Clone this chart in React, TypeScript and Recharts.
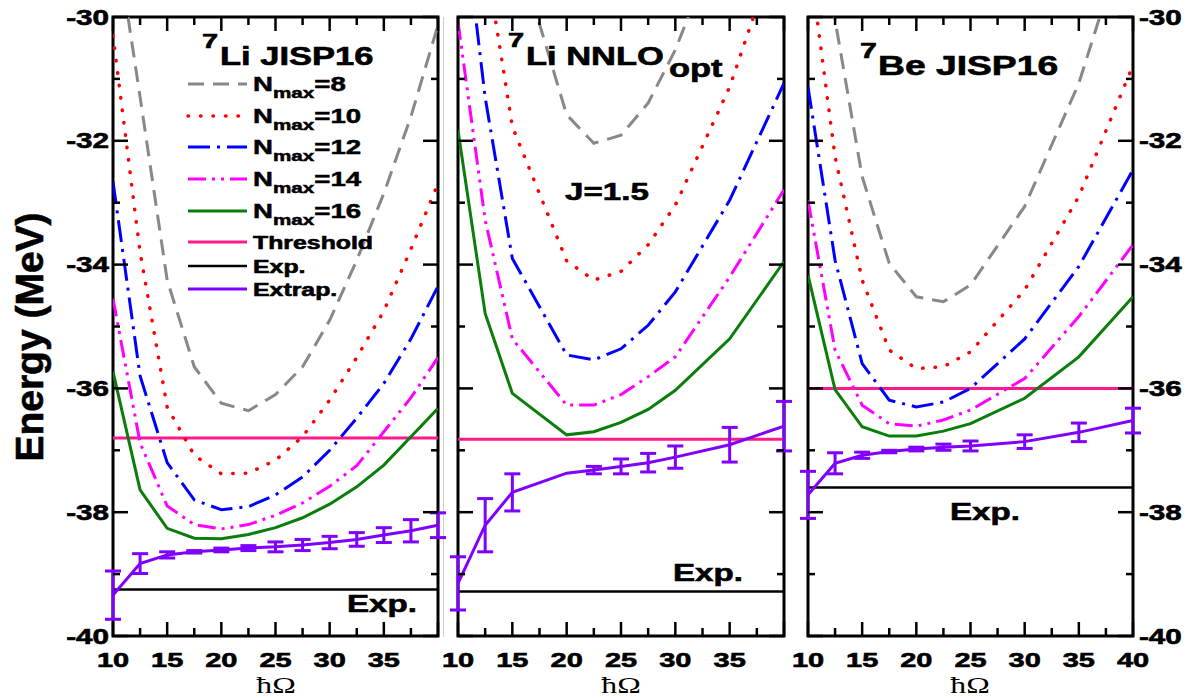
import React from "react";
import { LineChart, Line, XAxis, YAxis, ErrorBar, ReferenceLine, ReferenceArea } from "recharts";

const W = 1195;
const H = 698;
const TOP = 17;
const BOTTOM = 636;
const FONT = '"Liberation Sans", Arial, Helvetica, sans-serif';
const SX = 1.38; // the original figure is stretched sideways

// ---- 7Li JISP16 ----
const liJispHw = [10, 12.5, 15, 17.5, 20, 22.5, 25, 27.5, 30, 32.5, 35, 37.5, 40];
const liJispN8 = [-28.4, -31.29, -34.25, -35.65, -36.24, -36.36, -36.1, -35.65, -34.9, -33.93, -32.85, -31.61, -30.13];
const liJispN10 = [-30.3, -33.8, -36.3, -37.08, -37.38, -37.37, -37.16, -36.78, -36.19, -35.5, -34.75, -33.75, -32.69];
const liJispN12 = [-32.66, -35.8, -37.2, -37.8, -37.96, -37.91, -37.72, -37.43, -37.0, -36.48, -35.92, -35.2, -34.35];
const liJispN14 = [-34.55, -36.88, -37.9, -38.2, -38.27, -38.2, -38.05, -37.85, -37.58, -37.25, -36.7, -36.15, -35.5];
const liJispN16 = [-35.73, -37.64, -38.26, -38.42, -38.43, -38.36, -38.25, -38.09, -37.87, -37.59, -37.24, -36.78, -36.32];
const liJispExtrap = [-39.34, -38.83, -38.69, -38.64, -38.61, -38.58, -38.56, -38.53, -38.49, -38.44, -38.37, -38.3, -38.21];
const liJispErr = [0.39, 0.16, 0.05, 0.02, 0.03, 0.04, 0.08, 0.09, 0.1, 0.11, 0.12, 0.18, 0.2];
const liJispThreshold = -36.8;
const liJispExp = -39.25;

// ---- 7Li NNLOopt ----
const liNnloHw = [10, 12.5, 15, 20, 22.5, 25, 27.5, 30, 35, 40];
const liNnloN8 = [-25, -27, -28.65, -31.58, -32.04, -31.91, -31.39, -30.53, -28.3, -26];
const liNnloN10 = [-26.5, -29.0, -31.77, -33.94, -34.25, -34.11, -33.68, -33.04, -31.13, -28.55];
const liNnloN12 = [-27.6, -31.3, -33.9, -35.46, -35.54, -35.36, -34.98, -34.44, -32.96, -31.07];
const liNnloN14 = [-30.08, -33.28, -35.2, -36.27, -36.27, -36.1, -35.81, -35.49, -34.2, -32.79];
const liNnloN16 = [-31.83, -34.79, -36.08, -36.75, -36.7, -36.55, -36.34, -36.03, -35.2, -33.95];
const liNnloExtrap = [-39.15, -38.21, -37.68, -37.37, -37.32, -37.26, -37.2, -37.11, -36.91, -36.61];
const liNnloErr = [0.43, 0.43, 0.3, 0, 0.06, 0.12, 0.15, 0.18, 0.28, 0.4];
const liNnloThreshold = -36.82;
const liNnloExp = -39.28;

// ---- 7Be JISP16 ----
const beJispHw = [10, 12.5, 15, 17.5, 20, 22.5, 25, 30, 35, 40];
const beJispN8 = [-27.4, -30.05, -32.58, -33.98, -34.52, -34.6, -34.33, -33.06, -31.07, -28.3];
const beJispN10 = [-28.9, -32.26, -34.25, -35.38, -35.68, -35.65, -35.41, -34.41, -32.9, -30.78];
const beJispN12 = [-31.13, -33.93, -35.6, -36.19, -36.3, -36.22, -36.0, -35.2, -34.03, -32.47];
const beJispN14 = [-32.96, -35.38, -36.27, -36.57, -36.61, -36.51, -36.35, -35.84, -34.84, -33.68];
const beJispN16 = [-34.17, -36.02, -36.62, -36.77, -36.77, -36.69, -36.57, -36.16, -35.49, -34.52];
const beJispExtrap = [-37.72, -37.21, -37.08, -37.02, -36.98, -36.95, -36.93, -36.86, -36.71, -36.52];
const beJispErr = [0.38, 0.17, 0.05, 0.02, 0.03, 0.05, 0.08, 0.11, 0.15, 0.2];
const beJispThreshold = -36.0;
const beJispExp = -37.6;

const energyTicks = [-40, -39, -38, -37, -36, -35, -34, -33, -32, -31, -30];
const hwTicks = [10, 12.5, 15, 17.5, 20, 22.5, 25, 27.5, 30, 32.5, 35, 37.5, 40];

const SERIES = [
  { key: "n8", label: "8", color: "#888888", width: 3, dash: "16 9", cap: "butt" },
  { key: "n10", label: "10", color: "#ff0000", width: 3.5, dash: "0.5 12", cap: "round" },
  { key: "n12", label: "12", color: "#0000ff", width: 3, dash: "22 7 3 7", cap: "butt" },
  { key: "n14", label: "14", color: "#ff00ff", width: 3, dash: "18 6 3 6 3 6", cap: "butt" },
  { key: "n16", label: "16", color: "#0a7d0a", width: 3, dash: undefined, cap: "butt" },
];
const THR_COLOR = "#ff1a8c";
const EXT_COLOR = "#7f00ff";

function rows(hw: number[], n8: number[], n10: number[], n12: number[], n14: number[], n16: number[], ext: number[], err: number[]) {
  return hw.map((h, i) => ({ hw: h, n8: n8[i], n10: n10[i], n12: n12[i], n14: n14[i], n16: n16[i], ext: ext[i], err: err[i] }));
}

const panels = [
  { left: 113, right: 438, yLabels: "left", last: false, thr: liJispThreshold, exp: liJispExp,
    data: rows(liJispHw, liJispN8, liJispN10, liJispN12, liJispN14, liJispN16, liJispExtrap, liJispErr) },
  { left: 458, right: 784, yLabels: "none", last: false, thr: liNnloThreshold, exp: liNnloExp,
    data: rows(liNnloHw, liNnloN8, liNnloN10, liNnloN12, liNnloN14, liNnloN16, liNnloExtrap, liNnloErr) },
  { left: 808, right: 1133, yLabels: "right", last: true, thr: beJispThreshold, exp: beJispExp,
    data: rows(beJispHw, beJispN8, beJispN10, beJispN12, beJispN14, beJispN16, beJispExtrap, beJispErr) },
];

// heavy bold text, widened like the original
function Bold({ x, y, size, anchor = "start", children }: any) {
  return (
    <text transform={`translate(${x} ${y}) scale(${SX} 1)`} textAnchor={anchor}
      fontFamily={FONT} fontWeight="bold" fontSize={size} fill="#000" stroke="#000" strokeWidth={0.6}>{children}</text>
  );
}

function Panel({ p }: { p: any }) {
  const yW = 10;
  const xH = 10;
  const margin = { top: TOP, bottom: H - BOTTOM - xH, left: p.left - yW, right: W - p.right };

  const yTick = (props: any) => {
    const v = props.payload.value;
    const y = props.y;
    const major = v % 2 === 0;
    const len = major ? 15 : 7;
    return (
      <g>
        <line x1={p.left} x2={p.left + len} y1={y} y2={y} stroke="#000" strokeWidth={2.5} />
        <line x1={p.right} x2={p.right - len} y1={y} y2={y} stroke="#000" strokeWidth={2.5} />
        {major && p.yLabels === "left" && <Bold x={p.left - 4} y={y + 7.5} size={21.5} anchor="end">{String(v)}</Bold>}
        {major && p.yLabels === "right" && <Bold x={p.right + 6} y={y + 7.5} size={21.5}>{String(v)}</Bold>}
      </g>
    );
  };

  const xTick = (props: any) => {
    const v = props.payload.value;
    const x = props.x;
    const major = v % 5 === 0;
    const len = major ? 14 : 8;
    return (
      <g>
        <line x1={x} x2={x} y1={BOTTOM} y2={BOTTOM - len} stroke="#000" strokeWidth={2.5} />
        <line x1={x} x2={x} y1={TOP} y2={TOP + len} stroke="#000" strokeWidth={2.5} />
        {major && (p.last || v < 40) && <Bold x={x} y={667} size={21} anchor="middle">{String(v)}</Bold>}
      </g>
    );
  };

  return (
    <div style={{ position: "absolute", left: 0, top: 0 }}>
      <LineChart width={W} height={H} data={p.data} margin={margin}>
        <XAxis dataKey="hw" type="number" domain={[10, 40]} ticks={hwTicks} interval={0} height={xH}
          axisLine={false} tickLine={false} tickSize={0} tick={xTick} allowDataOverflow />
        <YAxis type="number" domain={[-40, -30]} ticks={energyTicks} interval={0} width={yW}
          axisLine={false} tickLine={false} tickSize={0} tick={yTick} allowDataOverflow />
        <ReferenceLine y={p.exp} stroke="#000" strokeWidth={2.5} />
        <ReferenceLine y={p.thr} stroke={THR_COLOR} strokeWidth={3} />
        {SERIES.map((s) => (
          <Line key={s.key} type="linear" dataKey={s.key} stroke={s.color} strokeWidth={s.width}
            strokeDasharray={s.dash} strokeLinecap={s.cap as any} dot={false} isAnimationActive={false} />
        ))}
        <Line type="linear" dataKey="ext" stroke={EXT_COLOR} strokeWidth={3} dot={false} isAnimationActive={false}>
          <ErrorBar dataKey="err" direction="y" width={8} strokeWidth={3} stroke={EXT_COLOR} isAnimationActive={false} />
        </Line>
        <ReferenceArea x1={10} x2={40} y1={-40} y2={-30} fill="none" fillOpacity={0} stroke="#000" strokeWidth={3} />
      </LineChart>
    </div>
  );
}

const legendRows = [84, 116, 147, 179, 211, 242, 266, 289];

function Overlay() {
  return (
    <svg width={W} height={H} style={{ position: "absolute", left: 0, top: 0, pointerEvents: "none" }}>
      {/* legend */}
      {SERIES.map((s, i) => (
        <g key={s.key}>
          <line x1={188} x2={247} y1={legendRows[i]} y2={legendRows[i]} stroke={s.color} strokeWidth={s.width}
            strokeDasharray={s.dash} strokeLinecap={s.cap as any} />
          <text transform={`translate(253 ${legendRows[i] + 7}) scale(${SX} 1)`} fontFamily={FONT} fontWeight="bold"
            fontSize={20} stroke="#000" strokeWidth={0.5}>
            N<tspan fontSize={15} dy={7}>max</tspan><tspan fontSize={20} dy={-7}>={s.label}</tspan>
          </text>
        </g>
      ))}
      <line x1={188} x2={247} y1={legendRows[5]} y2={legendRows[5]} stroke={THR_COLOR} strokeWidth={3} />
      <Bold x={253} y={legendRows[5] + 6.5} size={18}>Threshold</Bold>
      <line x1={188} x2={247} y1={legendRows[6]} y2={legendRows[6]} stroke="#000" strokeWidth={2.5} />
      <Bold x={253} y={legendRows[6] + 6.5} size={18}>Exp.</Bold>
      <line x1={188} x2={247} y1={legendRows[7]} y2={legendRows[7]} stroke={EXT_COLOR} strokeWidth={3} />
      <Bold x={253} y={legendRows[7] + 6.5} size={18}>Extrap.</Bold>

      {/* titles */}
      <Bold x={202} y={48} size={21}>7</Bold>
      <Bold x={220} y={65} size={25}>Li JISP16</Bold>
      <Bold x={508} y={47} size={21}>7</Bold>
      <Bold x={526} y={65} size={25}>Li NNLO</Bold>
      <Bold x={669} y={77} size={25}>opt</Bold>
      <Bold x={607} y={200} size={24} anchor="middle">J=1.5</Bold>
      <Bold x={860} y={58} size={22}>7</Bold>
      <Bold x={878} y={75} size={27}>Be JISP16</Bold>

      {/* experiment labels */}
      <Bold x={347} y={612} size={24}>Exp.</Bold>
      <Bold x={673} y={581} size={24}>Exp.</Bold>
      <Bold x={950} y={520} size={24}>Exp.</Bold>

      {/* axis titles */}
      {[276, 621, 970].map((cx) => (
        <text key={cx} transform={`translate(${cx} 693) scale(${SX} 1)`} textAnchor="middle"
          fontFamily='"Liberation Serif", "DejaVu Serif", serif' fontSize={23}>ħΩ</text>
      ))}
      <text transform="translate(43 337) rotate(-90)" textAnchor="middle" fontFamily={FONT}
        fontWeight="bold" fontSize={39} stroke="#000" strokeWidth={0.6}>Energy (MeV)</text>
    </svg>
  );
}

export default function App() {
  return (
    <div style={{ position: "absolute", left: 0, top: 0, width: W, height: H, background: "#fff", overflow: "hidden" }}>
      <div style={{ position: "absolute", left: 443, top: 17, width: 1, height: 620, background: "#cfcfcf" }} />
      {panels.map((p, i) => <Panel key={i} p={p} />)}
      <Overlay />
    </div>
  );
}
